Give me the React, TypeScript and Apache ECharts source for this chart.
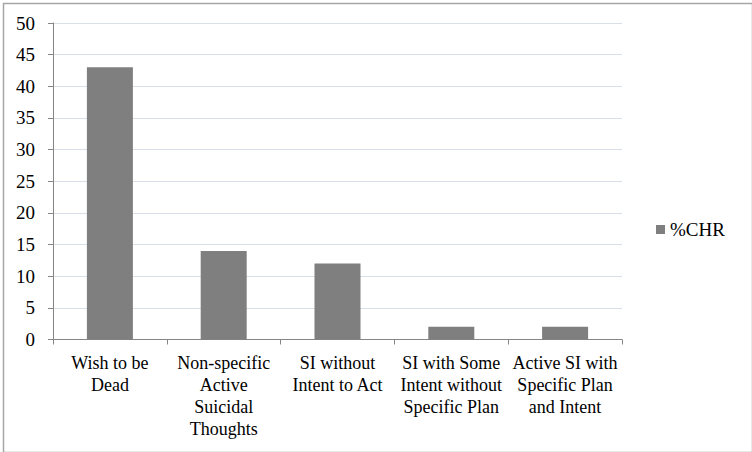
import React, { useEffect, useRef } from "react";
import * as echarts from "echarts";

const categories = [
  "Wish to be\nDead",
  "Non-specific\nActive\nSuicidal\nThoughts",
  "SI without\nIntent to Act",
  "SI with Some\nIntent without\nSpecific Plan",
  "Active SI with\nSpecific Plan\nand Intent",
];
const seriesName = "%CHR";
const values = [43, 14, 12, 2, 2];
const yMin = 0;
const yMax = 50;
const yInterval = 5;

const FONT = "'Liberation Serif', 'DejaVu Serif', 'Times New Roman', Times, serif";

export default function App() {
  const ref = useRef<HTMLDivElement>(null);
  useEffect(() => {
    if (!ref.current) return;
    const chart = echarts.init(ref.current, null, { renderer: "svg" });
    chart.setOption({
      animation: false,
      backgroundColor: "#ffffff",
      textStyle: { fontFamily: FONT },
      grid: { left: 53, right: 130, top: 23, bottom: 112.5, containLabel: false },
      legend: {
        data: [seriesName],
        left: 651,
        top: 215,
        icon: "rect",
        itemWidth: 9,
        itemHeight: 9,
        itemGap: 6,
        textStyle: { fontFamily: FONT, fontSize: 19, color: "#000" },
      },
      xAxis: {
        type: "category",
        data: categories,
        axisLine: { lineStyle: { color: "#868686", width: 1 } },
        axisTick: { show: true, alignWithLabel: false, length: 5, lineStyle: { color: "#868686" } },
        axisLabel: {
          interval: 0,
          margin: 12,
          fontFamily: FONT,
          fontSize: 18,
          lineHeight: 22,
          color: "#000",
          align: "center",
        },
      },
      yAxis: {
        type: "value",
        min: yMin,
        max: yMax,
        interval: yInterval,
        axisLine: { show: true, lineStyle: { color: "#868686", width: 1 } },
        axisTick: { show: true, length: 5, lineStyle: { color: "#868686" } },
        splitLine: { lineStyle: { color: "#d9dfe8", width: 1 } },
        axisLabel: { fontFamily: FONT, fontSize: 19, color: "#000", margin: 18 },
      },
      series: [
        {
          name: seriesName,
          type: "bar",
          data: values,
          barWidth: 46,
          itemStyle: { color: "#7f7f7f" },
        },
      ],
      graphic: [
        {
          type: "rect",
          left: 1,
          top: 1,
          shape: { x: 0, y: 0, width: 749, height: 449 },
          style: { fill: "none", stroke: "#a6a6a6", lineWidth: 1.5 },
          silent: true,
        },
      ],
    });
    return () => chart.dispose();
  }, []);
  return (
    <div
      ref={ref}
      style={{ position: "fixed", left: 0, top: 0, width: 752, height: 452 }}
    />
  );
}
